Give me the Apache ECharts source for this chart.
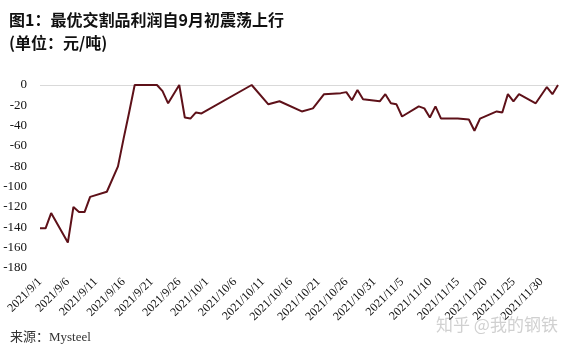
<!DOCTYPE html>
<html>
<head>
<meta charset="utf-8">
<script src="https://cdn.jsdelivr.net/npm/echarts@6/dist/echarts.min.js"></script>
<style>
  html, body { margin: 0; padding: 0; background: #fff; }
  #chart { width: 576px; height: 352px; }
</style>
</head>
<body>
<div id="chart"></div>
<script>
// trading days and profit (元/吨)
const dates = [
  "2021/9/1", "2021/9/2", "2021/9/3", "2021/9/6", "2021/9/7", "2021/9/8", "2021/9/9", "2021/9/10",
  "2021/9/13", "2021/9/15", "2021/9/16", "2021/9/17", "2021/9/18", "2021/9/22", "2021/9/23", "2021/9/24",
  "2021/9/26", "2021/9/27", "2021/9/28", "2021/9/29", "2021/9/30", "2021/10/9", "2021/10/12", "2021/10/14",
  "2021/10/18", "2021/10/20", "2021/10/22", "2021/10/25", "2021/10/26", "2021/10/27", "2021/10/28", "2021/10/29",
  "2021/11/1", "2021/11/2", "2021/11/3", "2021/11/4", "2021/11/5", "2021/11/8", "2021/11/9", "2021/11/10",
  "2021/11/11", "2021/11/12", "2021/11/15", "2021/11/17", "2021/11/18", "2021/11/19", "2021/11/22", "2021/11/23",
  "2021/11/24", "2021/11/25", "2021/11/26", "2021/11/29", "2021/12/1", "2021/12/2", "2021/12/3"
];
const profit = [
  -141, -141, -126, -155, -120, -125, -125, -110,
  -105, -80, -53, -27, 0, 0, -6, -18,
  0, -32, -33, -27, -28, 0, -19, -16,
  -26, -23, -9, -8, -7, -15, -5, -14,
  -16, -9, -18, -19, -31, -21, -23, -32,
  -21, -33, -33, -34, -45, -33, -26, -27,
  -9, -16, -9, -18, -2, -9, 0
];
// x tick labels, every 5 days from 2021/9/1
const tickLabels = [
  "2021/9/1", "2021/9/6", "2021/9/11", "2021/9/16", "2021/9/21", "2021/9/26", "2021/10/1",
  "2021/10/6", "2021/10/11", "2021/10/16", "2021/10/21", "2021/10/26", "2021/10/31",
  "2021/11/5", "2021/11/10", "2021/11/15", "2021/11/20", "2021/11/25", "2021/11/30"
];

// days since 2021/9/1
function dayNo(s) {
  const p = s.split("/").map(Number);
  return Math.round((Date.UTC(p[0], p[1] - 1, p[2]) - Date.UTC(2021, 8, 1)) / 86400000);
}
const seriesData = dates.map((d, i) => [dayNo(d), profit[i]]);

const serif = "'Liberation Serif', 'Noto Sans CJK SC', serif";
const chart = echarts.init(document.getElementById("chart"));
chart.setOption({
  animation: false,
  title: {
    text: "图1：最优交割品利润自9月初震荡上行\n(单位：元/吨)",
    left: 4,
    top: 3,
    textStyle: {
      fontFamily: "'Noto Sans CJK SC', sans-serif",
      fontSize: 16,
      fontWeight: "bold",
      color: "#111",
      lineHeight: 23
    }
  },
  grid: { left: 40, right: 18, top: 85, bottom: 84 },
  xAxis: {
    type: "value",
    min: 0,
    max: dayNo(dates[dates.length - 1]),
    interval: 5,
    splitLine: { show: false },
    axisLine: { show: false },
    axisTick: { show: false },
    axisLabel: {
      rotate: 45,
      margin: 12,
      showMaxLabel: false,
      fontFamily: serif,
      fontSize: 12,
      color: "#111",
      formatter: v => (v % 5 === 0 ? tickLabels[v / 5] || "" : "")
    }
  },
  yAxis: {
    type: "value",
    min: -180,
    max: 0,
    interval: 20,
    splitLine: { show: false },
    axisLine: { show: false },
    axisTick: { show: false },
    axisLabel: { margin: 13, fontFamily: serif, fontSize: 13, color: "#111" }
  },
  series: [
    {
      type: "line",
      data: seriesData,
      symbol: "none",
      lineStyle: { color: "#5e1119", width: 2 },
      markLine: {
        silent: true,
        symbol: "none",
        label: { show: false },
        lineStyle: { color: "#d9d9d9", width: 1, type: "solid" },
        data: [{ yAxis: 0 }],
        z: 1
      }
    }
  ],
  graphic: [
    {
      type: "text",
      left: 10,
      top: 331,
      style: {
        text: "来源：Mysteel",
        font: "13px " + serif,
        fill: "#333"
      }
    },
    {
      type: "text",
      left: 436,
      top: 316,
      style: {
        text: "知乎 @我的钢铁",
        font: "17px 'Noto Sans CJK SC', sans-serif",
        fill: "rgba(170,170,170,0.55)"
      }
    }
  ]
});
</script>
</body>
</html>
